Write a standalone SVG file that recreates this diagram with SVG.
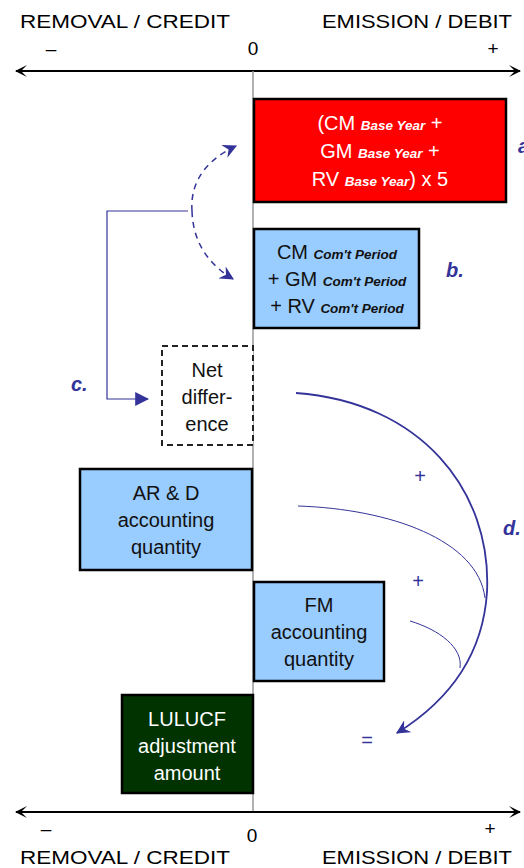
<svg xmlns="http://www.w3.org/2000/svg" width="524" height="868" viewBox="0 0 524 868">
<defs>
<style>
.ax{stroke:#000;stroke-width:2;fill:none}
.zero{stroke:#999;stroke-width:1.5}
.lbl{font-family:"Liberation Sans",Arial,sans-serif;font-size:19px;fill:#000}
.t{font-family:"Liberation Sans",Arial,sans-serif;font-size:20px;fill:#111;text-anchor:middle}
.w{fill:#fff}
.sub{font-size:13.5px;font-weight:bold;font-style:italic}
.box{stroke:#000;stroke-width:2.5}
.tag{font-family:"Liberation Sans",Arial,sans-serif;font-size:20px;font-weight:bold;font-style:italic;fill:#333399}
.op{font-family:"Liberation Sans",Arial,sans-serif;font-size:20px;fill:#333399;text-anchor:middle}
.con{stroke:#333399;fill:none}
</style>
<marker id="axl" viewBox="0 0 12 12" refX="1" refY="6" markerWidth="12" markerHeight="12" markerUnits="userSpaceOnUse" orient="auto">
<path d="M12,0 L0,6 L12,12 L6,6 Z" fill="#000"/>
</marker>
<marker id="axr" viewBox="0 0 12 12" refX="11" refY="6" markerWidth="12" markerHeight="12" markerUnits="userSpaceOnUse" orient="auto">
<path d="M0,0 L12,6 L0,12 L6,6 Z" fill="#000"/>
</marker>
<marker id="tri" viewBox="0 0 12 12" refX="11" refY="6" markerWidth="14" markerHeight="14" markerUnits="userSpaceOnUse" orient="auto">
<path d="M0,0 L12,6 L0,12 Z" fill="#333399"/>
</marker>
<marker id="barb" viewBox="0 0 12 12" refX="11" refY="6" markerWidth="14" markerHeight="14" markerUnits="userSpaceOnUse" orient="auto">
<path d="M0,0 L12,6 L0,12 L4,6 Z" fill="#333399"/>
</marker>
</defs>
<rect width="524" height="868" fill="#fff"/>

<g id="axis-top">
<text class="lbl" x="20" y="28" textLength="210" lengthAdjust="spacingAndGlyphs">REMOVAL / CREDIT</text>
<text class="lbl" x="322" y="28" textLength="190" lengthAdjust="spacingAndGlyphs">EMISSION / DEBIT</text>
<text class="lbl" x="51" y="55" text-anchor="middle">–</text>
<text class="lbl" x="253" y="55" text-anchor="middle">0</text>
<text class="lbl" x="493" y="55" text-anchor="middle">+</text>
<line class="ax" x1="16" y1="71" x2="520" y2="71" marker-start="url(#axl)" marker-end="url(#axr)"/>
</g>
<line id="zero-line" class="zero" x1="253" y1="71" x2="253" y2="812"/>

<g id="axis-bottom">
<line class="ax" x1="16" y1="812" x2="520" y2="812" marker-start="url(#axl)" marker-end="url(#axr)"/>
<text class="lbl" x="46" y="835" text-anchor="middle">–</text>
<text class="lbl" x="252" y="842" text-anchor="middle">0</text>
<text class="lbl" x="490" y="835" text-anchor="middle">+</text>
<text class="lbl" x="20" y="864" textLength="210" lengthAdjust="spacingAndGlyphs">REMOVAL / CREDIT</text>
<text class="lbl" x="322" y="864" textLength="190" lengthAdjust="spacingAndGlyphs">EMISSION / DEBIT</text>
</g>

<g id="node-a">
<rect class="box" x="254" y="99" width="252" height="103" fill="#ff0000"/>
<text class="t w" x="380" y="130">(CM <tspan class="sub">Base Year</tspan> +</text>
<text class="t w" x="380" y="158">GM <tspan class="sub">Base Year</tspan> +</text>
<text class="t w" x="380" y="186">RV <tspan class="sub">Base Year</tspan>) x 5</text>
<text class="tag" x="518" y="153">a.</text>
</g>

<g id="node-b">
<rect class="box" x="254" y="229" width="165" height="99" fill="#99ccff"/>
<text class="t" x="337" y="259">CM <tspan class="sub">Com't Period</tspan></text>
<text class="t" x="337" y="286">+ GM <tspan class="sub">Com't Period</tspan></text>
<text class="t" x="337" y="313">+ RV <tspan class="sub">Com't Period</tspan></text>
<text class="tag" x="446" y="277">b.</text>
</g>

<g id="node-c">
<rect x="162" y="346" width="91" height="99" fill="#fff" stroke="#222" stroke-width="2" stroke-dasharray="6,4"/>
<text class="t" x="207" y="377">Net</text>
<text class="t" x="207" y="404">differ-</text>
<text class="t" x="207" y="431">ence</text>
<text class="tag" x="71" y="391">c.</text>
</g>

<g id="node-ard">
<rect class="box" x="80" y="469" width="172" height="101" fill="#99ccff"/>
<text class="t" x="166" y="500">AR &amp; D</text>
<text class="t" x="166" y="527">accounting</text>
<text class="t" x="166" y="554">quantity</text>
</g>

<g id="node-fm">
<rect class="box" x="254" y="582" width="130" height="99" fill="#99ccff"/>
<text class="t" x="319" y="612">FM</text>
<text class="t" x="319" y="639">accounting</text>
<text class="t" x="319" y="666">quantity</text>
</g>

<g id="node-lulucf">
<rect class="box" x="122" y="695" width="131" height="98" fill="#003300"/>
<text class="t w" x="187" y="726">LULUCF</text>
<text class="t w" x="187" y="753">adjustment</text>
<text class="t w" x="187" y="780">amount</text>
</g>

<g id="connectors">
<path class="con" stroke-width="1.5" stroke-dasharray="6,5" d="M192,211 C190,182 206,160 236,146" marker-end="url(#barb)"/>
<path class="con" stroke-width="1.5" stroke-dasharray="6,5" d="M192,211 C193,242 208,264 233,279" marker-end="url(#barb)"/>
<path class="con" stroke="#5555aa" stroke-width="1.2" d="M188,211 H107 V399 H148" marker-end="url(#tri)"/>
<path class="con" stroke-width="1.8" d="M296,393 C420,402 492,490 487,592 C483,655 450,700 397,733" marker-end="url(#barb)"/>
<path class="con" stroke-width="1" d="M298,506 C390,509 478,540 485,598"/>
<path class="con" stroke-width="1" d="M410,621 C440,630 463,648 460,668"/>
<text class="op" x="420" y="483">+</text>
<text class="op" x="418" y="588">+</text>
<text class="op" x="367" y="747">=</text>
<text class="tag" x="503" y="535">d.</text>
</g>
</svg>
